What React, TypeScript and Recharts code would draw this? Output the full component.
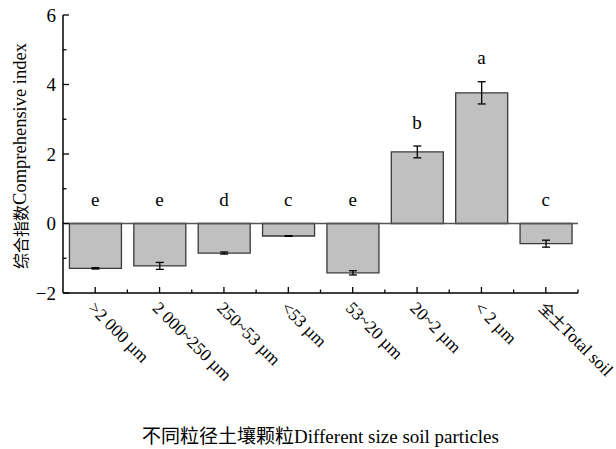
import React from 'react';
import {
  ComposedChart,
  Bar,
  Line,
  XAxis,
  YAxis,
  ErrorBar,
  ReferenceLine,
} from 'recharts';

const categories = [
  '>2 000 µm',
  '2 000~250 µm',
  '250~53 µm',
  '<53 µm',
  '53~20 µm',
  '20~2 µm',
  '< 2 µm',
  '全土Total soil',
];
const indexMeans = [-1.29, -1.22, -0.85, -0.36, -1.42, 2.06, 3.76, -0.58];
const indexErrors = [0.02, 0.1, 0.03, 0.01, 0.06, 0.17, 0.32, 0.1];
const groupLetters = ['e', 'e', 'd', 'c', 'e', 'b', 'a', 'c'];
const yTicks = [-2, -1, 0, 1, 2, 3, 4, 5, 6];

const CHART_W = 616;
const CHART_H = 449;
const AXIS_W = 63;
const MARGIN = { top: 15, right: 38, bottom: 4, left: 0 };
const HALF_BAND = (CHART_W - MARGIN.right - AXIS_W) / categories.length / 2;

const SERIF = '"Liberation Serif", "Times New Roman", serif';
const CJK = '"Noto Sans CJK SC", sans-serif';

const data = categories.map((name, i) => ({
  name,
  value: indexMeans[i],
  err: indexErrors[i],
  // letters sit above the error bar, or above the zero line for negative bars
  letterAt: Math.max(0, indexMeans[i] + indexErrors[i]),
}));

// split mixed Chinese/Latin strings so each part gets its own font
const MixedText = ({ text, cjkSize, latinSize }: { text: string; cjkSize: number; latinSize: number }) => {
  const parts = text.match(/[\u4e00-\u9fff]+|[^\u4e00-\u9fff]+/g) || [];
  return (
    <>
      {parts.map((p, i) =>
        /[\u4e00-\u9fff]/.test(p) ? (
          <tspan key={i} fontFamily={CJK} fontSize={cjkSize}>{p}</tspan>
        ) : (
          <tspan key={i} fontFamily={SERIF} fontSize={latinSize}>{p}</tspan>
        )
      )}
    </>
  );
};

const YTick = (props: any) => {
  const { x, y, payload } = props;
  const major = payload.value % 2 === 0;
  return (
    <g>
      <line x1={x} y1={y} x2={x + (major ? 6 : 3.5)} y2={y} stroke="#000" strokeWidth={1.3} />
      {major && (
        <text x={x - 7} y={y} textAnchor="end" dominantBaseline="central" fontFamily={SERIF} fontSize={19} fill="#000">
          {payload.value < 0 ? `\u2212${Math.abs(payload.value)}` : payload.value}
        </text>
      )}
    </g>
  );
};

const XTick = (props: any) => {
  const { x, y, payload } = props;
  const lx = x - 8;
  const ly = y + 16;
  return (
    <g>
      <line x1={x} y1={y} x2={x} y2={y - 6} stroke="#000" strokeWidth={1.3} />
      <line x1={x + HALF_BAND} y1={y} x2={x + HALF_BAND} y2={y - 3.5} stroke="#000" strokeWidth={1.3} />
      <text x={lx} y={ly} transform={`rotate(45 ${lx} ${ly})`} textAnchor="start" fill="#000">
        <MixedText text={payload.value} cjkSize={15.5} latinSize={17.5} />
      </text>
    </g>
  );
};

const XTitle = (props: any) => {
  const { x, y, width } = props.viewBox;
  return (
    <text x={x + width / 2} y={y + 150} textAnchor="middle" fill="#000">
      <MixedText text="不同粒径土壤颗粒Different size soil particles" cjkSize={19} latinSize={19} />
    </text>
  );
};

const YTitle = (props: any) => {
  const { x, y, height } = props.viewBox;
  const cx = x + 20;
  const cy = y + height / 2 + 2;
  return (
    <text x={cx} y={cy} transform={`rotate(-90 ${cx} ${cy})`} textAnchor="middle" dominantBaseline="central" fill="#000">
      <MixedText text="综合指数Comprehensive index" cjkSize={16} latinSize={18.5} />
    </text>
  );
};

const LetterLabel = (props: any) => {
  const { x, y, index } = props;
  return (
    <text x={x} y={y - 24} textAnchor="middle" dominantBaseline="central" fontFamily={SERIF} fontSize={19} fill="#000">
      {groupLetters[index]}
    </text>
  );
};

const App = () => {
  return (
    <div style={{ position: 'absolute', left: 0, top: 0, width: CHART_W, height: CHART_H }}>
      <ComposedChart width={CHART_W} height={CHART_H} data={data} margin={MARGIN} barCategoryGap="10%">
        <XAxis
          dataKey="name"
          height={152}
          interval={0}
          tickSize={0}
          tickMargin={0}
          tickLine={false}
          axisLine={{ stroke: '#000', strokeWidth: 1.5 }}
          tick={<XTick />}
          label={<XTitle />}
        />
        <YAxis
          width={AXIS_W}
          domain={[-2, 6]}
          ticks={yTicks}
          interval={0}
          allowDataOverflow
          tickSize={0}
          tickMargin={0}
          tickLine={false}
          axisLine={{ stroke: '#000', strokeWidth: 1.5 }}
          tick={<YTick />}
          label={<YTitle />}
        />
        <Bar dataKey="value" fill="#c0c0c0" stroke="#3a3a3a" strokeWidth={1.3} isAnimationActive={false}>
          <ErrorBar dataKey="err" width={4} stroke="#000" strokeWidth={1.3} direction="y" isAnimationActive={false} />
        </Bar>
        <ReferenceLine y={0} stroke="#555" strokeWidth={1.5} />
        <Line
          dataKey="letterAt"
          stroke="none"
          dot={false}
          activeDot={false}
          isAnimationActive={false}
          label={<LetterLabel />}
        />
      </ComposedChart>
    </div>
  );
};

export default App;
